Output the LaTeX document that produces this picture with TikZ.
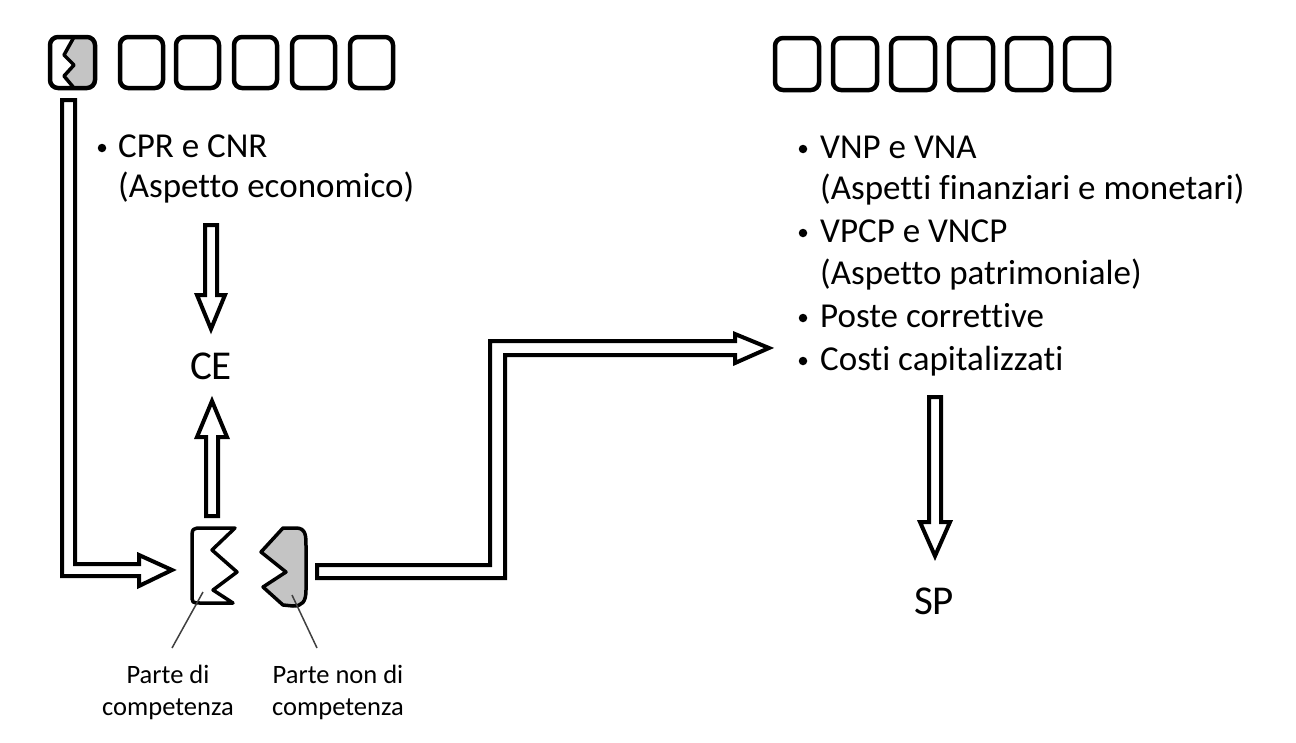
\documentclass[tikz,border=0pt]{standalone}
\usepackage{fontspec}
\setmainfont{Carlito}[Ligatures=NoCommon]
\definecolor{pieceGray}{HTML}{C4C4C4}
\begin{document}
\begin{tikzpicture}[x=1pt,y=-1pt,
  hollow/.style={draw=black,line width=4pt,fill=white,line join=miter},
  slot/.style={draw=black,line width=4.5pt,rounded corners=8pt},
  piece/.style={draw=black,line width=3.5pt,line join=round},
  txt/.style={inner sep=0pt,anchor=base west,font=\fontsize{35}{40}\selectfont},
  big/.style={inner sep=0pt,anchor=base,font=\fontsize{41}{46}\selectfont},
  small/.style={inner sep=0pt,anchor=base,font=\fontsize{26.5}{30}\selectfont},
  bul/.style={fill=black,circle,inner sep=0pt,minimum size=8.5pt},
  pointer/.style={draw=black!75,line width=1.5pt}]
\useasboundingbox (0,0) rectangle (1296,742);
\fill[white] (0,0) rectangle (1296,742);

% ---- top left slots ----
\begin{scope}
  \clip[rounded corners=8pt] (50,37) rectangle (95,88);
  \fill[pieceGray] (74,37) -- (64,55) -- (74,65) -- (64,76) -- (74,88) -- (100,88) -- (100,37) -- cycle;
\end{scope}
\draw[line width=3.5pt,line join=round] (74,37) -- (64,55) -- (74,65) -- (64,76) -- (74,88);
\draw[slot] (50,37) rectangle (95,88);
\foreach \x in {120,176,234,292,350} \draw[slot] (\x,37) rectangle ++(43,51);

% ---- top right slots ----
\foreach \x in {775,833,891,949,1007,1065} \draw[slot] (\x,38) rectangle ++(44,52);

% ---- left text ----
\node[bul] (bl1) at (102,148) {};
\node[txt] (cpr) at (118,157) {CPR e CNR};
\node[txt] (aspe) at (118,197) {(Aspetto economico)};
\node[big] (ce) at (211,379) {CE};

% ---- right text ----
\node[txt] (r1) at (820,158) {VNP e VNA};
\node[txt] (r2) at (820,199) {(Aspetti finanziari e monetari)};
\node[txt] (r3) at (820,242) {VPCP e VNCP};
\node[txt] (r4) at (820,284) {(Aspetto patrimoniale)};
\node[txt] (r5) at (820,327) {Poste correttive};
\node[txt] (r6) at (820,370) {Costi capitalizzati};
\foreach \b in {158,242,327,370} \node[bul] at (803,\b-9) {};
\node[big] (sp) at (934,614) {SP};

% ---- hollow arrows ----
% L arrow from first slot to competenza piece
\draw[hollow] (62,100) -- (75,100) -- (75,564) -- (139,564) -- (139,555) -- (172,570)
  -- (139,586) -- (139,576) -- (62,576) -- cycle;
% CPR -> CE
\draw[hollow] (205,225) -- (217,225) -- (217,295) -- (225,295) -- (211,329)
  -- (197,295) -- (205,295) -- cycle;
% piece -> CE
\draw[hollow] (206,516) -- (206,437) -- (197,437) -- (212,401) -- (227,437)
  -- (218,437) -- (218,516) -- cycle;
% Z arrow to right list
\draw[hollow] (317,565) -- (490,565) -- (490,341) -- (735,341) -- (735,334) -- (769,348)
  -- (735,363) -- (735,355) -- (505,355) -- (505,578) -- (317,578) -- cycle;
% list -> SP
\draw[hollow] (929,397) -- (941,397) -- (941,522) -- (950,522) -- (935,556)
  -- (920,522) -- (929,522) -- cycle;

% ---- pieces ----
\draw[piece,fill=white] (235,528) -- (212,550) -- (237,572) -- (213,590) -- (233,603)
  -- (201,603) .. controls (192,603) .. (192,594) -- (192,540)
  .. controls (192,528) .. (203,528) -- cycle;
\draw[piece,fill=pieceGray] (283,528) -- (296,528) .. controls (306,528) and (306,536) .. (306,546)
  -- (306,590) .. controls (306,602) and (302,606) .. (293,606) -- (283,605)
  -- (263,587) -- (286,572) -- (261,552) -- cycle;

% ---- labels ----
\coordinate (pA) at (203,592);
\coordinate (pB) at (292,595);
\node[small] (la1) at (168,683) {Parte di};
\node[small] (la2) at (168,715) {competenza};
\node[small] (lb1) at (338,683) {Parte non di};
\node[small] (lb2) at (338,715) {competenza};
\draw[pointer] (pA) -- (172,648);
\draw[pointer] (pB) -- (317,648);
\end{tikzpicture}
\end{document}
